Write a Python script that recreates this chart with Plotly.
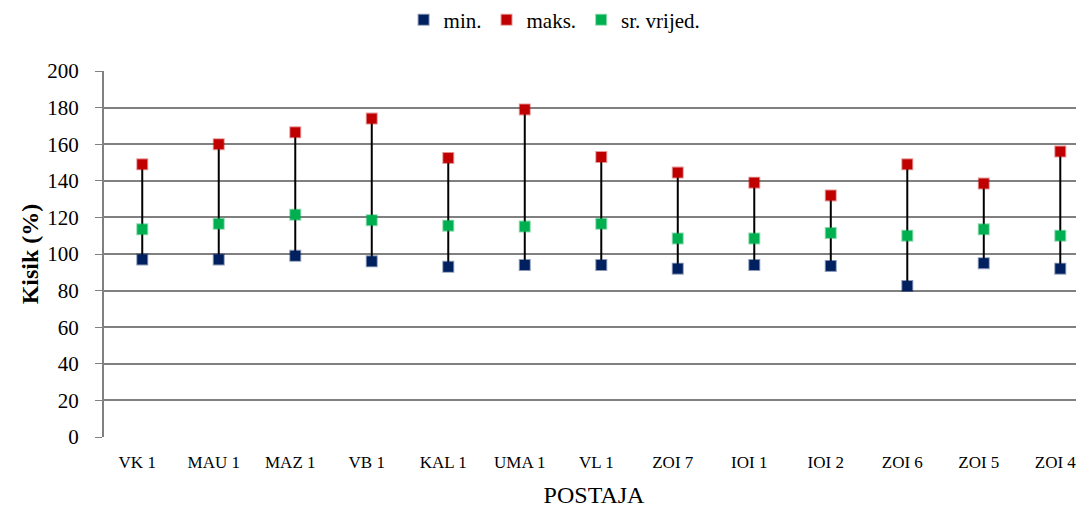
import plotly.graph_objects as go

stations = ['VK 1', 'MAU 1', 'MAZ 1', 'VB 1', 'KAL 1', 'UMA 1', 'VL 1',
            'ZOI 7', 'IOI 1', 'IOI 2', 'ZOI 6', 'ZOI 5', 'ZOI 4']
min_vals = [97, 97, 99, 96, 93, 94, 94, 92, 94, 93.5, 82.5, 95, 92]
max_vals = [149, 160, 166.5, 174, 152.5, 179, 153, 144.5, 139, 132, 149, 138.5, 156]
mean_vals = [113.5, 116.5, 121.5, 118.5, 115.5, 115, 116.5, 108.5, 108.5, 111.5, 110, 113.5, 110]

serif = 'Liberation Serif, Times New Roman, serif'

# high-low connector segments
seg_x, seg_y = [], []
for s, lo, hi in zip(stations, min_vals, max_vals):
    seg_x += [s, s, None]
    seg_y += [lo, hi, None]

fig = go.Figure()
fig.add_trace(go.Scatter(x=seg_x, y=seg_y, mode='lines', showlegend=False,
                         line=dict(color='black', width=2), hoverinfo='skip'))
fig.add_trace(go.Scatter(x=stations, y=min_vals, mode='markers', name='min.',
                         marker=dict(symbol='square', size=10, color='#002060',
                                     line=dict(color='rgba(0,32,96,0.45)', width=2))))
fig.add_trace(go.Scatter(x=stations, y=max_vals, mode='markers', name='maks.',
                         marker=dict(symbol='square', size=10, color='#C00000',
                                     line=dict(color='rgba(192,0,0,0.4)', width=2))))
fig.add_trace(go.Scatter(x=stations, y=mean_vals, mode='markers', name='sr. vrijed.',
                         marker=dict(symbol='square', size=10, color='#00B050',
                                     line=dict(color='rgba(0,176,80,0.45)', width=2))))

# page body has an 8px margin, so the figure is sized/offset to compensate
fig.update_layout(
    width=1076, height=500,
    margin=dict(l=96, r=0, t=63, b=71, autoexpand=False),
    plot_bgcolor='white', paper_bgcolor='white',
    font=dict(family=serif, color='black', size=16),
    legend=dict(orientation='h', xref='container', yref='container',
                x=0.508, xanchor='center', y=0.976, yanchor='middle',
                font=dict(size=21, family=serif), itemwidth=30,
                traceorder='normal'),
    xaxis=dict(range=[-0.5, 12.31], showgrid=False, showline=False, ticks='',
               automargin=False, ticklabelstandoff=13, ticklabelshift=-5,
               tickfont=dict(size=17, family=serif),
               title=dict(text='POSTAJA', font=dict(size=24, family=serif), standoff=16)),
    yaxis=dict(range=[0, 200], dtick=20, showgrid=True, gridcolor='#808080', gridwidth=1.5,
               showline=True, linecolor='#808080', linewidth=2, ticks='outside',
               ticklen=7, tickcolor='#808080', zeroline=False, automargin=False,
               ticklabelstandoff=12,
               tickfont=dict(size=21, family=serif),
               title=dict(text='<b>Kisik (%)</b>', font=dict(size=24, family=serif), standoff=2)),
)

fig.write_html('out.html')
